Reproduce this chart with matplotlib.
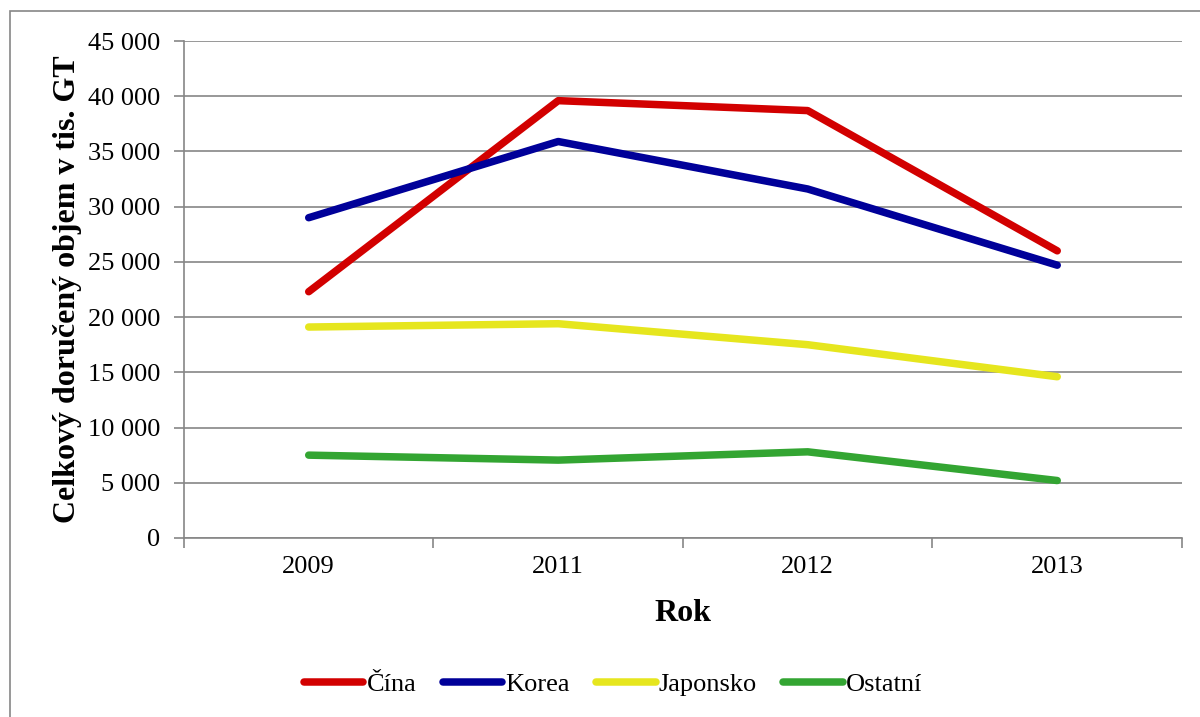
import matplotlib.pyplot as plt
from matplotlib.patches import Rectangle
from matplotlib.ticker import FuncFormatter

years = ['2009', '2011', '2012', '2013']
cina = [22300, 39600, 38700, 26000]
korea = [29000, 35900, 31600, 24700]
japonsko = [19100, 19400, 17500, 14600]
ostatni = [7500, 7050, 7800, 5200]

series = [('Čína', cina, '#d20000'),
          ('Korea', korea, '#000099'),
          ('Japonsko', japonsko, '#e6e61e'),
          ('Ostatní', ostatni, '#33a532')]

plt.rcParams['font.family'] = ['Liberation Serif', 'DejaVu Serif']

fig = plt.figure(figsize=(12, 7.17), dpi=100)
ax = fig.add_axes([0.1533, 0.2497, 0.8317, 0.6931])

# outer chart border (runs off the right/bottom edge)
fig.patches.append(Rectangle((10 / 1200, -0.05), 1.1, 1 - 11 / 717 + 0.05,
                             transform=fig.transFigure, fill=False,
                             edgecolor='#868686', lw=1.2))

x = range(len(years))
for name, vals, col in series:
    ax.plot(x, vals, color=col, lw=5.4, solid_capstyle='round',
            solid_joinstyle='round', label=name)

ax.set_xlim(-0.5, 3.5)
ax.set_ylim(0, 45000)
ax.set_yticks(range(0, 45001, 5000))
ax.yaxis.set_major_formatter(FuncFormatter(lambda v, p: f'{int(v):,}'.replace(',', ' ')))
ax.set_xticks([i - 0.5 for i in range(5)])
ax.set_xticklabels([])
ax.set_xticks(list(x), minor=True)
ax.set_xticklabels(years, minor=True)
ax.tick_params(axis='x', which='minor', length=0, pad=13, labelsize=19)
ax.tick_params(axis='x', which='major', length=7, width=1.2, color='#868686')
ax.tick_params(axis='y', length=7, width=1.2, color='#868686', labelsize=19, pad=10)

ax.grid(axis='y', color='#868686', lw=1.2)
ax.set_axisbelow(True)
for s in ['top', 'right']:
    ax.spines[s].set_visible(False)
for s in ['left', 'bottom']:
    ax.spines[s].set_color('#868686')
    ax.spines[s].set_linewidth(1.2)

ax.set_ylabel('Celkový doručený objem v tis. GT', fontsize=23, fontweight='bold', labelpad=4)
ax.set_xlabel('Rok', fontsize=23, fontweight='bold', labelpad=15)

fig.legend(loc='center', bbox_to_anchor=(0.511, 0.045), ncol=4, frameon=False,
           fontsize=19, handlelength=2.25, handletextpad=0.12, columnspacing=1.0)

fig.savefig('out.png', dpi=100)
